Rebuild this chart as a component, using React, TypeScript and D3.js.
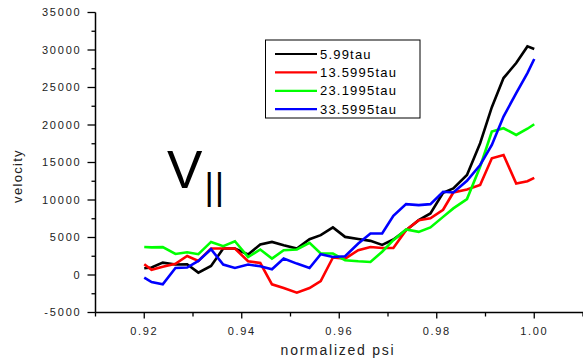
import React from "react";
import * as d3 from "d3";

const psi = [
  0.92, 0.9215, 0.9238, 0.9264, 0.9288, 0.9311, 0.9337, 0.9362, 0.9386, 0.9413,
  0.9438, 0.9462, 0.9486, 0.9513, 0.9539, 0.9562, 0.9587, 0.9612, 0.9639, 0.9664,
  0.9688, 0.9711, 0.9737, 0.9763, 0.9787, 0.9813, 0.9834, 0.9862, 0.9889, 0.9913,
  0.9937, 0.9963, 0.9986, 1.0,
];

const v599 = [
  900, 1000, 1650, 1400, 1430, 320, 1200, 3530, 3530, 2730,
  4060, 4410, 3970, 3530, 4770, 5310, 6340, 5080, 4800, 4550,
  4010, 4730, 5980, 7310, 8210, 10960, 11550, 13330, 17570, 22380,
  26260, 28260, 30480, 30130,
];

const v135995 = [
  1430, 700, 1100, 1500, 2540, 1870, 3530, 3530, 3530, 1830,
  1600, -1240, -1740, -2350, -1740, -800, 2330, 2190, 3300, 3740,
  3610, 3610, 5980, 7310, 7550, 8700, 11000, 11400, 12000, 15560,
  16000, 12200, 12500, 12950,
];

const v231995 = [
  3740, 3680, 3720, 2810, 3030, 2770, 4410, 3840, 4500, 2400,
  3400, 2190, 3300, 3400, 4280, 2860, 2860, 1970, 1830, 1740,
  3100, 4640, 6070, 5750, 6340, 7750, 8880, 10120, 14440, 19120,
  19570, 18680, 19500, 20100,
];

const v335995 = [
  -350, -940, -1240, 940, 990, 1870, 3440, 1390, 940, 1390,
  1160, 760, 2190, 1520, 940, 2770, 2410, 2500, 4200, 5530,
  5530, 7890, 9450, 9320, 9450, 11100, 11000, 12570, 14670, 17340,
  21120, 24250, 26930, 28800,
];

const seriesNames = ["5.99tau", "13.5995tau", "23.1995tau", "33.5995tau"];
const seriesValues = [v599, v135995, v231995, v335995];
const seriesColors = ["#000000", "#ff0000", "#00ff00", "#0000ff"];

const xMajorTicks = [0.92, 0.94, 0.96, 0.98, 1.0];
const xMinorTicks = [0.91, 0.93, 0.95, 0.97, 0.99, 1.01];
const yMajorTicks = [-5000, 0, 5000, 10000, 15000, 20000, 25000, 30000, 35000];
const yMinorTicks = [-2500, 2500, 7500, 12500, 17500, 22500, 27500, 32500];

const W = 583;
const H = 361;
const FONT = "'Liberation Sans', Arial, sans-serif";

export default function App() {
  const x = d3.scaleLinear().domain([0.91, 1.01]).range([95.5, 583]);
  const y = d3.scaleLinear().domain([-5000, 35000]).range([312.5, 12.5]);

  const line = d3
    .line<[number, number]>()
    .x((d) => x(d[0]))
    .y((d) => y(d[1]));

  const x0 = x.range()[0];
  const y0 = y.range()[0];

  const legendLeft = 265.5;
  const legendTop = 40;
  const rowGap = 18.4;

  return (
    <svg
      width={W}
      height={H}
      style={{ position: "absolute", left: 0, top: 0, background: "#fff" }}
      fontFamily={FONT}
    >
      <rect width={W} height={H} fill="#fff" />

      {/* data lines */}
      {seriesValues.map((vals, i) => (
        <path
          key={seriesNames[i]}
          d={line(psi.map((p, j) => [p, vals[j]]) as [number, number][]) || ""}
          fill="none"
          stroke={seriesColors[i]}
          strokeWidth={2.6}
          strokeLinejoin="miter"
        />
      ))}

      {/* y axis */}
      <line x1={x0} x2={x0} y1={y(35000)} y2={y0} stroke="#000" strokeWidth={1.5} />
      {yMajorTicks.map((t) => (
        <g key={"ym" + t}>
          <line x1={x0 - 8} x2={x0} y1={y(t)} y2={y(t)} stroke="#000" strokeWidth={1.3} />
          <text
            x={x0 - 14}
            y={y(t)}
            dy="0.36em"
            textAnchor="end"
            fontSize={11}
            letterSpacing={1.8}
            fill="#222"
          >
            {t}
          </text>
        </g>
      ))}
      {yMinorTicks.map((t) => (
        <line key={"yn" + t} x1={x0 - 4} x2={x0} y1={y(t)} y2={y(t)} stroke="#000" strokeWidth={1.3} />
      ))}

      {/* x axis */}
      <line x1={x0} x2={W} y1={y0} y2={y0} stroke="#000" strokeWidth={1.5} />
      {xMajorTicks.map((t) => (
        <g key={"xm" + t}>
          <line x1={x(t)} x2={x(t)} y1={y0} y2={y0 + 6} stroke="#000" strokeWidth={1.3} />
          <text
            x={x(t)}
            y={y0 + 22}
            textAnchor="middle"
            fontSize={11}
            letterSpacing={1.7}
            fill="#222"
          >
            {t.toFixed(2)}
          </text>
        </g>
      ))}
      {xMinorTicks.map((t) => (
        <line key={"xn" + t} x1={x(t)} x2={x(t)} y1={y0} y2={y0 + 4} stroke="#000" strokeWidth={1.3} />
      ))}

      {/* axis titles */}
      <text
        x={338}
        y={355}
        textAnchor="middle"
        fontSize={14}
        letterSpacing={1.75}
        fill="#222"
      >
        normalized psi
      </text>
      <text
        transform="translate(22,176) rotate(-90)"
        textAnchor="middle"
        fontSize={13}
        letterSpacing={1.3}
        fill="#222"
      >
        velocity
      </text>

      {/* V parallel annotation */}
      <text x={167} y={187.7} fontSize={53} fill="#000">
        V
      </text>
      <text x={204.5} y={199} fontSize={36} fill="#000" letterSpacing={1}>
        ||
      </text>

      {/* legend */}
      <rect
        x={legendLeft}
        y={legendTop}
        width={154.5}
        height={78}
        fill="#fff"
        stroke="#000"
        strokeWidth={1}
      />
      {seriesNames.map((name, i) => {
        const ry = legendTop + 14 + i * rowGap;
        return (
          <g key={"lg" + name}>
            <line x1={275} x2={317} y1={ry} y2={ry} stroke={seriesColors[i]} strokeWidth={2.2} />
            <text x={320} y={ry} dy="0.36em" fontSize={13} letterSpacing={1.2} fill="#000">
              {name}
            </text>
          </g>
        );
      })}
    </svg>
  );
}
